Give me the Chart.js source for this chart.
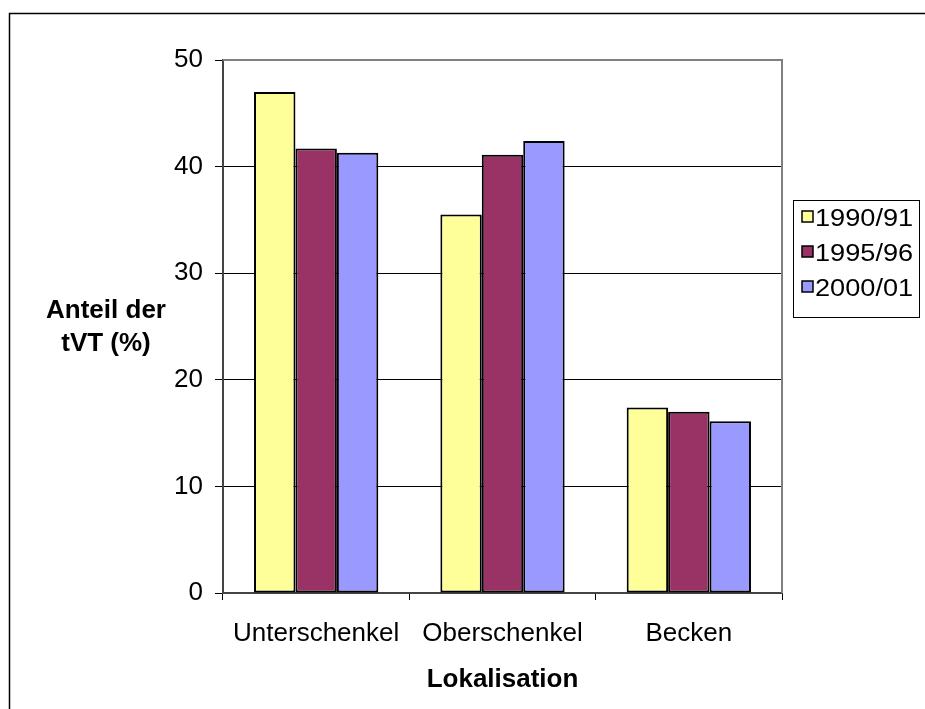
<!DOCTYPE html>
<html>
<head>
<meta charset="utf-8">
<script src="https://cdn.jsdelivr.net/npm/chart.js@4"></script>
<style>
  html, body { margin: 0; padding: 0; background: #fff; }
  #wrap { width: 925px; height: 709px; }
</style>
</head>
<body>
<div id="wrap"><canvas id="c" width="925" height="709"></canvas></div>
<script>
// Lokalisation der tiefen Venenthrombosen, Anteil in Prozent
const categories = ['Unterschenkel', 'Oberschenkel', 'Becken'];
const seriesLabels = ['1990/91', '1995/96', '2000/01'];
const values1990 = [47.0, 35.5, 17.4];
const values1995 = [41.7, 41.1, 17.0];
const values2000 = [41.3, 42.4, 16.1];
const yTicks = [0, 10, 20, 30, 40, 50];
const seriesColors = ['#FFFF99', '#993366', '#9999FF'];

const FONT = "'Liberation Sans', Arial, Helvetica, sans-serif";

// Frame around the whole chart (open to the right and bottom)
const outerFrame = {
  id: 'outerFrame',
  afterDraw(chart) {
    const ctx = chart.ctx;
    ctx.save();
    ctx.strokeStyle = '#000';
    ctx.lineWidth = 1.5;
    ctx.beginPath();
    ctx.moveTo(9.5, chart.height);
    ctx.lineTo(9.5, 13.5);
    ctx.lineTo(chart.width, 13.5);
    ctx.stroke();
    ctx.restore();
  }
};

// Grey plot-area border on top and right
const plotBorder = {
  id: 'plotBorder',
  beforeDatasetsDraw(chart) {
    const { ctx, chartArea: a } = chart;
    ctx.save();
    ctx.strokeStyle = '#808080';
    ctx.lineWidth = 2;
    ctx.beginPath();
    ctx.moveTo(a.left, a.top);
    ctx.lineTo(a.right, a.top);
    ctx.lineTo(a.right, a.bottom);
    ctx.stroke();
    ctx.restore();
  }
};

// Horizontal two-line y-axis title
const yTitle = {
  id: 'yTitle',
  afterDraw(chart) {
    const ctx = chart.ctx;
    ctx.save();
    ctx.fillStyle = '#000';
    ctx.font = 'bold 26px ' + FONT;
    ctx.textAlign = 'center';
    ctx.textBaseline = 'alphabetic';
    ctx.fillText('Anteil der', 106, 318);
    ctx.fillText('tVT (%)', 106, 351);
    ctx.restore();
  }
};

// Boxed legend to the right of the plot
const boxLegend = {
  id: 'boxLegend',
  afterDraw(chart) {
    const ctx = chart.ctx;
    const x0 = 793, y0 = 200, w = 126, h = 117;
    ctx.save();
    ctx.fillStyle = '#fff';
    ctx.fillRect(x0, y0, w, h);
    ctx.strokeStyle = '#000';
    ctx.lineWidth = 1;
    ctx.strokeRect(x0 + 0.5, y0 + 0.5, w, h);
    chart.data.datasets.forEach((ds, i) => {
      const cy = 217 + i * 35;
      ctx.fillStyle = ds.backgroundColor;
      ctx.fillRect(802, cy - 6, 11, 11);
      ctx.strokeStyle = '#000';
      ctx.lineWidth = 1.5;
      ctx.strokeRect(802, cy - 6, 11, 11);
      ctx.save();
      ctx.translate(815, 226 + i * 35);
      ctx.scale(1.18, 1);
      ctx.fillStyle = '#000';
      ctx.font = '23px ' + FONT;
      ctx.textBaseline = 'alphabetic';
      ctx.textAlign = 'left';
      ctx.fillText(ds.label, 0, 0);
      ctx.restore();
    });
    ctx.restore();
  }
};

const datasets = [values1990, values1995, values2000].map((vals, i) => ({
  label: seriesLabels[i],
  data: vals,
  backgroundColor: seriesColors[i],
  borderColor: '#000',
  borderWidth: 2,
  borderSkipped: false,
  categoryPercentage: 0.667,
  barPercentage: 1.0
}));

new Chart(document.getElementById('c'), {
  type: 'bar',
  data: { labels: categories, datasets },
  options: {
    responsive: false,
    animation: false,
    devicePixelRatio: 1,
    layout: { padding: { left: 0, top: 60, right: 143, bottom: 0 } },
    plugins: { legend: { display: false }, tooltip: { enabled: false } },
    scales: {
      x: {
        offset: true,
        afterFit(scale) { scale.height = 116; },
        grid: { offset: true, drawOnChartArea: false, drawTicks: true, tickLength: 7, color: '#000', lineWidth: 1 },
        border: { display: true, color: '#444', width: 2 },
        ticks: { color: '#000', font: { family: FONT, size: 26 }, padding: 18, maxRotation: 0 },
        title: { display: true, text: 'Lokalisation', color: '#000', font: { family: FONT, size: 26, weight: 'bold' }, padding: { top: 0, bottom: 14 } }
      },
      y: {
        min: 0,
        max: 50,
        afterFit(scale) { scale.width = 223; },
        afterBuildTicks(scale) { scale.ticks = yTicks.map(v => ({ value: v })); },
        grid: { color: '#000', lineWidth: 1, drawTicks: true, tickLength: 8 },
        border: { display: true, color: '#444', width: 2 },
        ticks: { color: '#000', font: { family: FONT, size: 26 }, padding: 12 }
      }
    }
  },
  plugins: [plotBorder, yTitle, boxLegend, outerFrame]
});
</script>
</body>
</html>
